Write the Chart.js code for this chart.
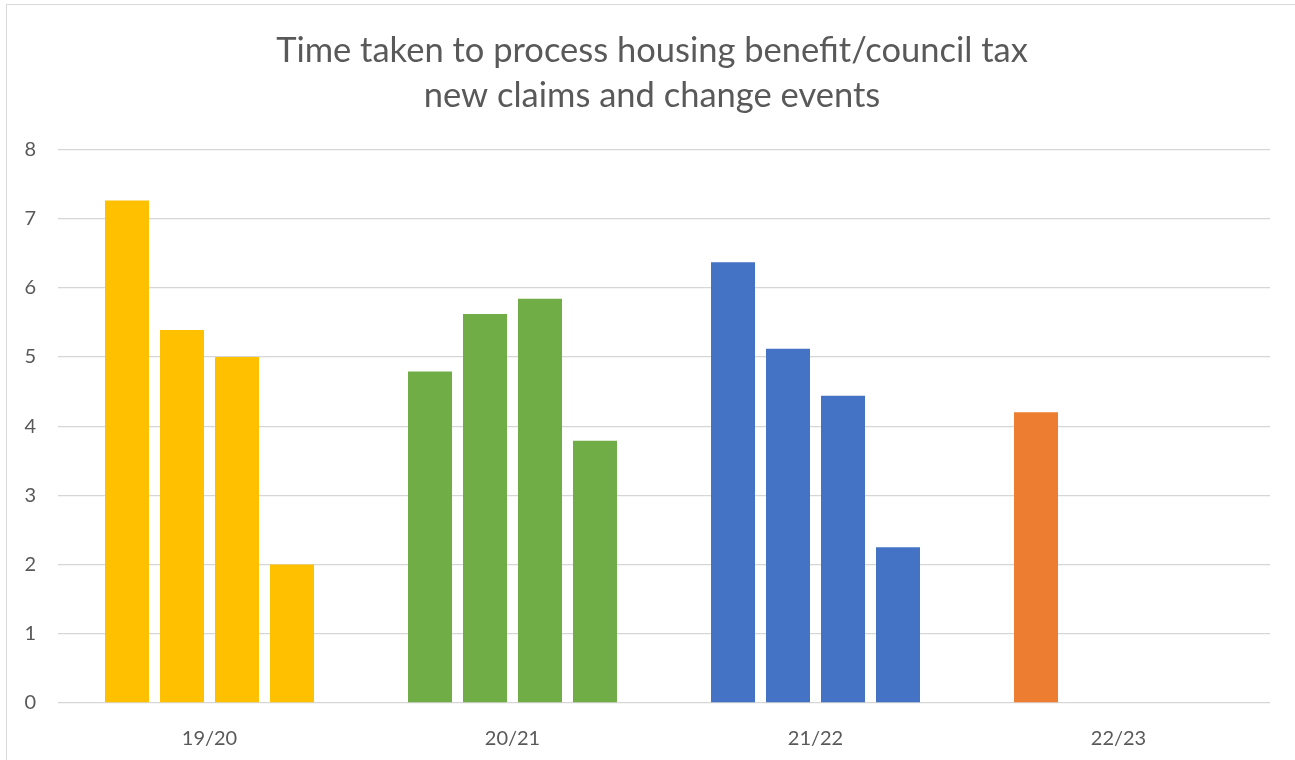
<!DOCTYPE html>
<html>
<head>
<meta charset="utf-8">
<title>Time taken to process housing benefit/council tax</title>
<script src="https://cdn.jsdelivr.net/npm/chart.js@4/dist/chart.umd.min.js"></script>
<style>
  body { margin: 0; background: #fff; overflow: hidden; }
  .frame {
    position: absolute; left: 6px; top: 4px;
    width: 1400px; height: 900px;
    border: 1px solid #d9d9d9;
  }
  .wrap { position: absolute; left: 0; top: 0; width: 1295px; height: 760px; }
</style>
</head>
<body>
<div class="frame"></div>
<div class="wrap"><canvas id="claimsChart"></canvas></div>
<script>
// years on the x axis
const years = ['19/20', '20/21', '21/22', '22/23'];

// one series per quarter (days)
const q1 = [7.26, 4.79, 6.37, 4.2];
const q2 = [5.39, 5.62, 5.12, null];
const q3 = [5.0, 5.84, 4.44, null];
const q4 = [2.0, 3.79, 2.25, null];

const yearColours = ['#FFC000', '#70AD47', '#4472C4', '#ED7D31'];
const yTicks = [0, 1, 2, 3, 4, 5, 6, 7, 8];

const textColour = '#595959';
const fontFamily = 'Lato, "Open Sans", sans-serif';

const ctx = document.getElementById('claimsChart');

new Chart(ctx, {
  type: 'bar',
  data: {
    labels: years,
    datasets: [q1, q2, q3, q4].map((vals, i) => ({
      label: 'Q' + (i + 1),
      data: vals,
      backgroundColor: yearColours,
      borderWidth: 0,
      categoryPercentage: 0.726,
      barPercentage: 0.8
    }))
  },
  options: {
    responsive: true,
    maintainAspectRatio: false,
    animation: false,
    layout: {
      // uneven padding so the title sits a little right of centre, like the original
      padding: { left: 17, right: 8, top: 0, bottom: 0 }
    },
    plugins: {
      legend: { display: false },
      tooltip: { enabled: false },
      title: {
        display: true,
        text: ['Time taken to process housing benefit/council tax', 'new claims and change events'],
        color: textColour,
        font: { family: fontFamily, size: 34.5, weight: 'normal', lineHeight: 1.31 },
        padding: { top: 28, bottom: 31 }
      }
    },
    scales: {
      x: {
        grid: { display: false },
        border: { display: false },
        ticks: {
          color: textColour,
          font: { family: fontFamily, size: 20 },
          padding: 16
        },
        afterFit: (scale) => { scale.height = 57; }
      },
      y: {
        min: 0,
        max: 8,
        afterBuildTicks: (scale) => {
          scale.ticks = yTicks.map(v => ({ value: v }));
        },
        grid: {
          color: '#d6d6d6',
          lineWidth: 1.3,
          drawTicks: false
        },
        border: { display: false },
        ticks: {
          color: textColour,
          font: { family: fontFamily, size: 20 },
          padding: 22
        },
        afterFit: (scale) => { scale.width = 41; }
      },
      // empty right-hand axis, only there to keep the plot's right edge in place
      spacer: {
        type: 'linear',
        position: 'right',
        grid: { display: false },
        border: { display: false },
        ticks: { display: false },
        afterFit: (scale) => { scale.width = 17; }
      }
    }
  }
});
</script>
</body>
</html>
